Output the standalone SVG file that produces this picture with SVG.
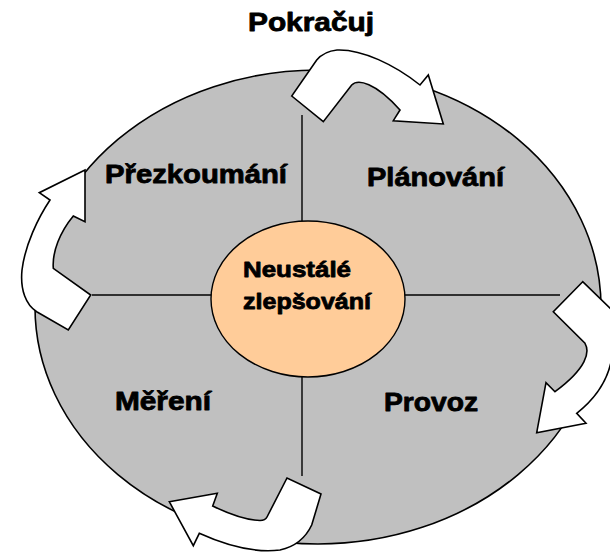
<svg xmlns="http://www.w3.org/2000/svg" width="610" height="552" viewBox="0 0 610 552">
<style>
.lbl{font-family:"Liberation Sans",Arial,sans-serif;font-weight:bold;fill:#000;stroke:#000;stroke-width:0.8;stroke-linejoin:round;}
.big{font-size:25px;}
.mid{font-size:22px;}
.arrow{fill:#fff;stroke:#000;stroke-width:1.6;stroke-linejoin:miter;}
.div{stroke:#000;stroke-width:1.4;fill:none;}
</style>
<rect width="610" height="552" fill="#fff"/>
<g id="cycle">
<ellipse cx="318" cy="307" rx="283" ry="237" fill="#c0c0c0" stroke="#000" stroke-width="1.6"/>
</g>
<g id="connectors">
<line class="div" x1="92" y1="295" x2="560" y2="295"/>
<line class="div" x1="302" y1="115" x2="302" y2="476"/>
</g>
<g id="center">
<ellipse cx="308" cy="299" rx="97" ry="78" fill="#ffcc99" stroke="#000" stroke-width="1.4"/>
<text class="lbl mid" x="243" y="277" textLength="108" lengthAdjust="spacingAndGlyphs">Neustálé</text>
<text class="lbl mid" x="243" y="309" textLength="128" lengthAdjust="spacingAndGlyphs">zlepšování</text>
</g>
<g id="arrow-top">
<path class="arrow" d="M291.7,96 L323.3,121.7 L351.7,85 C358,79 375,82 400,110 L393.3,120.7 L443.3,124 L428.3,75 L420,85 C395,65 362,49 337,50 C327,51 321,55 316.7,60 Z"/>
</g>
<g id="arrow-left">
<path class="arrow" d="M85,170 L39.3,192.7 L50,200 C38,218 25,245 22,270 C20,290 26,305 36.7,311.7 L68.3,330 L90.7,295 L53.3,268.3 C52,252 60,232 73.3,216 L85,221.7 Z"/>
</g>
<g id="arrow-right">
<path class="arrow" d="M582.7,281.7 L553.3,311.7 L585,343.3 C590,352 587,368 555,391.7 L546,382.7 L536.7,432.7 L586,423.3 L576.7,413.3 C600,395 614,370 613,340 L614,312 Z"/>
</g>
<g id="arrow-bottom">
<path class="arrow" d="M169.3,501.7 L217.3,493.3 L212.7,506 C225,512 245,520 260,520.5 C264,520.5 266,519 267,517 L287,478 L321,494 L311.7,525 C307,535 298,546 280,550 C255,553 225,545 199.3,533.3 L193.3,545.7 Z"/>
</g>
<g id="label-pokracuj">
<text class="lbl big" x="248" y="31" textLength="126" lengthAdjust="spacingAndGlyphs">Pokračuj</text>
</g>
<g id="label-prezkoumani">
<text class="lbl big" x="105" y="183" textLength="182" lengthAdjust="spacingAndGlyphs">Přezkoumání</text>
</g>
<g id="label-planovani">
<text class="lbl big" x="367" y="186" textLength="137" lengthAdjust="spacingAndGlyphs">Plánování</text>
</g>
<g id="label-mereni">
<text class="lbl big" x="115" y="410" textLength="96" lengthAdjust="spacingAndGlyphs">Měření</text>
</g>
<g id="label-provoz">
<text class="lbl big" x="384" y="411" textLength="94" lengthAdjust="spacingAndGlyphs">Provoz</text>
</g>
</svg>
